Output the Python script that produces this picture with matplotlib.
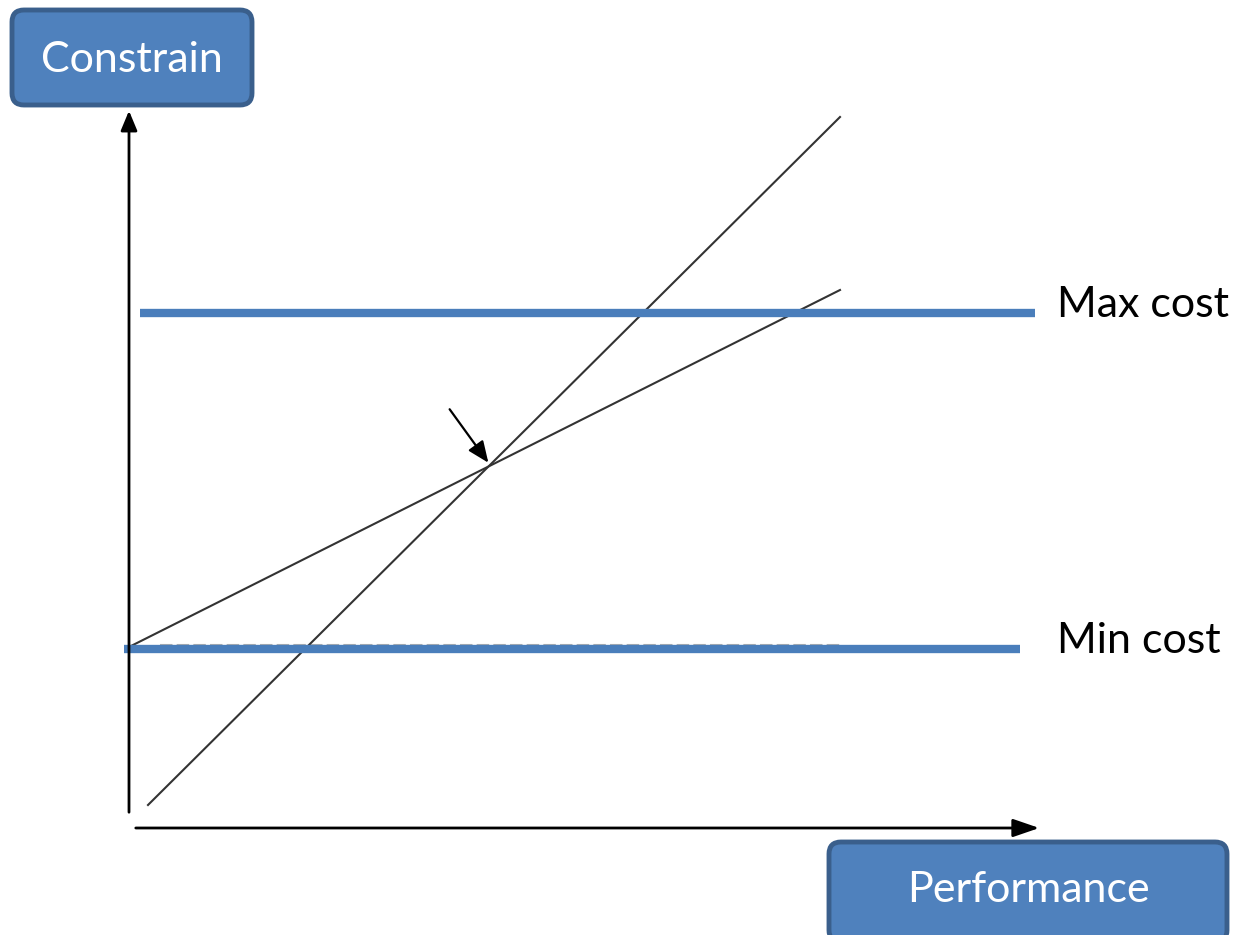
import matplotlib.pyplot as plt
from matplotlib.patches import FancyBboxPatch

# diagram geometry, in picture pixels (x right, y down)
steep_x = [148, 840]
steep_y = [805, 117]
shallow_x = [129, 840]
shallow_y = [647, 290]

cost_names = ["Max cost", "Min cost"]
cost_y = [313, 649]
cost_x0 = [140, 124]
cost_x1 = [1035, 1020]

blue = "#4f81bd"
edge_blue = "#3a5f8c"
font = ["Lato", "DejaVu Sans"]

fig = plt.figure(figsize=(12.34, 9.35), dpi=100)
ax = fig.add_axes([0, 0, 1, 1])
ax.set_xlim(0, 1234)
ax.set_ylim(935, 0)
ax.axis("off")

# axes arrows
ax.annotate("", xy=(129, 108), xytext=(129, 815),
            arrowprops=dict(arrowstyle="-|>,head_length=1.2,head_width=0.5", lw=2, color="black"))
ax.annotate("", xy=(1042, 828), xytext=(133, 828),
            arrowprops=dict(arrowstyle="-|>,head_length=1.6,head_width=0.55", lw=2, color="black"))

# faint dashed line above min cost
ax.plot([160, 840], [645, 645], color="#b0b0b0", lw=1.5, ls=(0, (6, 2)))

# two crossing lines
ax.plot(steep_x, steep_y, color="#333333", lw=1.5)
ax.plot(shallow_x, shallow_y, color="#333333", lw=1.5)

# pointer to intersection
ax.annotate("", xy=(490, 465), xytext=(448, 407),
            arrowprops=dict(arrowstyle="-|>,head_length=1.3,head_width=0.55", lw=1.6, color="black"))

# cost limits
for name, y, x0, x1 in zip(cost_names, cost_y, cost_x0, cost_x1):
    ax.plot([x0, x1], [y, y], color="#4a7ebb", lw=6, solid_capstyle="butt")
    ax.text(1057, y - 8, name, fontsize=31, family=font, va="center", ha="left", color="black")

# labelled boxes
for (x, y, w, h, ty, label) in [(12, 10, 240, 95, 60, "Constrain"),
                                (829, 842, 398, 100, 890, "Performance")]:
    box = FancyBboxPatch((x + 12, y + 12), w - 24, h - 24,
                         boxstyle="round,pad=12", fc=blue, ec=edge_blue, lw=3.5)
    ax.add_patch(box)
    ax.text(x + w / 2, ty, label, fontsize=31, family=font, color="white", ha="center", va="center")

fig.savefig("out.png", dpi=100)
